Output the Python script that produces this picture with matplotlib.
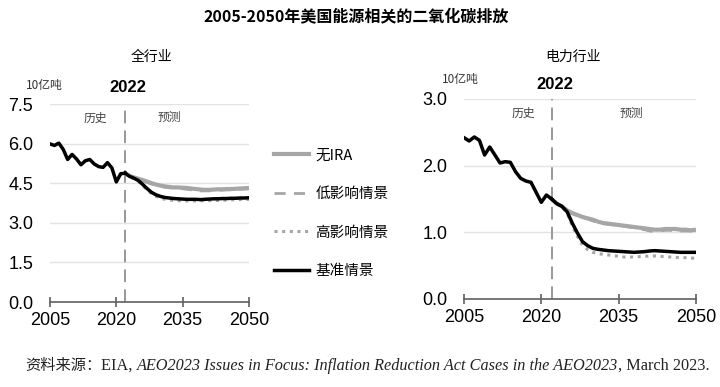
import matplotlib
matplotlib.use("Agg")
import matplotlib.pyplot as plt
from matplotlib.lines import Line2D
import numpy as np

plt.rcParams['font.family'] = ['Liberation Sans', 'Noto Sans CJK SC', 'DejaVu Sans']
CJK = ['Noto Sans CJK SC', 'DejaVu Sans']

# years
hist_years = list(range(2005, 2023))
proj_years = list(range(2022, 2051))

# all sectors, billion tonnes
total_hist = [5.99, 5.93, 6.02, 5.78, 5.40, 5.59, 5.42, 5.20, 5.35, 5.40, 5.23, 5.13, 5.10, 5.28, 5.08, 4.55, 4.86, 4.88]
total_noira = [4.88, 4.78, 4.72, 4.67, 4.62, 4.56, 4.50, 4.45, 4.41, 4.38, 4.36, 4.34, 4.34, 4.33, 4.32, 4.30, 4.28, 4.26, 4.25, 4.25,
               4.26, 4.27, 4.27, 4.28, 4.28, 4.29, 4.30, 4.31, 4.32]
total_low = [4.88, 4.78, 4.71, 4.65, 4.59, 4.53, 4.47, 4.42, 4.38, 4.35, 4.33, 4.31, 4.30, 4.29, 4.27, 4.25, 4.23, 4.21, 4.21, 4.21,
             4.22, 4.23, 4.24, 4.25, 4.25, 4.26, 4.27, 4.28, 4.29]
total_high = [4.88, 4.75, 4.67, 4.57, 4.41, 4.24, 4.10, 4.00, 3.93, 3.89, 3.87, 3.85, 3.84, 3.83, 3.83, 3.83, 3.83, 3.83, 3.84, 3.84,
              3.85, 3.85, 3.86, 3.86, 3.87, 3.87, 3.88, 3.88, 3.89]
total_base = [4.88, 4.76, 4.69, 4.60, 4.45, 4.29, 4.15, 4.06, 4.00, 3.96, 3.94, 3.92, 3.91, 3.90, 3.89, 3.89, 3.89, 3.88, 3.89, 3.90,
              3.91, 3.91, 3.92, 3.92, 3.93, 3.93, 3.94, 3.94, 3.95]

# electric power sector
power_hist = [2.42, 2.37, 2.43, 2.38, 2.16, 2.28, 2.16, 2.04, 2.06, 2.05, 1.91, 1.81, 1.77, 1.75, 1.60, 1.45, 1.56, 1.50]
power_noira = [1.50, 1.43, 1.39, 1.33, 1.29, 1.26, 1.23, 1.21, 1.19, 1.16, 1.14, 1.13, 1.12, 1.11, 1.10, 1.09, 1.08, 1.07, 1.06, 1.05,
               1.04, 1.04, 1.05, 1.05, 1.05, 1.04, 1.04, 1.03, 1.04]
power_low = [1.50, 1.43, 1.39, 1.32, 1.28, 1.25, 1.22, 1.20, 1.17, 1.15, 1.13, 1.12, 1.11, 1.10, 1.09, 1.08, 1.07, 1.05, 1.04, 1.02,
             1.01, 1.02, 1.03, 1.03, 1.02, 1.02, 1.02, 1.02, 1.03]
power_high = [1.50, 1.43, 1.38, 1.29, 1.10, 0.94, 0.81, 0.74, 0.70, 0.68, 0.67, 0.66, 0.65, 0.64, 0.63, 0.63, 0.63, 0.635, 0.64, 0.645,
              0.645, 0.64, 0.635, 0.63, 0.625, 0.62, 0.62, 0.615, 0.61]
power_base = [1.50, 1.43, 1.39, 1.31, 1.14, 0.99, 0.86, 0.80, 0.76, 0.745, 0.735, 0.725, 0.72, 0.715, 0.71, 0.705, 0.70, 0.705, 0.71, 0.72,
              0.725, 0.72, 0.715, 0.71, 0.705, 0.70, 0.70, 0.70, 0.70]

legend_labels = ['无IRA', '低影响情景', '高影响情景', '基准情景']
xticks = [2005, 2020, 2035, 2050]

GRAY = '#a6a6a6'

fig = plt.figure(figsize=(7.2, 3.87), dpi=100)


def draw_panel(ax, hist, noira, low, high, base, ymax, ystep, title, title_x, unit_x, unit_y, hist_x, pred_x, note_y):
    ax.plot(proj_years, noira, color=GRAY, lw=3, solid_capstyle='butt', zorder=3)
    ax.plot(proj_years, low, color=GRAY, lw=2, ls=(0, (4, 3)), zorder=3)
    ax.plot(proj_years, high, color=GRAY, lw=2.2, ls=(0, (1, 1.5)), zorder=3)
    ax.plot(proj_years, base, color='black', lw=2.5, zorder=4)
    ax.plot(hist_years, hist, color='black', lw=2.5, zorder=4)
    ax.axvline(2022, color='#909090', lw=1.3, ls=(0, (7, 4)), zorder=2)
    ax.set_xlim(2005, 2050)
    ax.set_ylim(0, ymax)
    ax.set_xticks(xticks)
    yt = np.arange(0, ymax + 0.001, ystep)
    ax.set_yticks(yt)
    ax.set_yticklabels(['%.1f' % v for v in yt])
    ax.grid(axis='y', color='#e3e3e3', lw=1)
    ax.set_axisbelow(True)
    for s in ['top', 'right', 'left']:
        ax.spines[s].set_visible(False)
    ax.spines['bottom'].set_color('#606060')
    ax.spines['bottom'].set_linewidth(1.2)
    ax.tick_params(axis='y', length=0, labelsize=13, pad=12)
    ax.tick_params(axis='x', direction='inout', length=7, width=1.2, color='#606060', labelsize=13, pad=4)
    ax.text(2022.6, note_y, '2022', fontsize=12, fontweight='bold', ha='center', va='center',
            transform=ax.get_xaxis_transform())
    ax.text(hist_x, 0.93, '历史', fontsize=8.5, family=CJK, color='#444444', ha='center', va='center',
            transform=ax.get_xaxis_transform())
    ax.text(pred_x, 0.93, '预测', fontsize=8.5, family=CJK, color='#444444', ha='center', va='center',
            transform=ax.get_xaxis_transform())
    fig.text(unit_x, unit_y, '10亿吨', fontsize=8.5, family=CJK, color='#333333', ha='center', va='center')
    fig.text(title_x, 0.853, title, fontsize=10, family=CJK, ha='center', va='center')


ax1 = fig.add_axes([0.0694, 0.2196, 0.2764, 0.5116])
draw_panel(ax1, total_hist, total_noira, total_low, total_high, total_base, 7.5, 1.5, '全行业',
           0.21, 0.062, 0.78, 2015.2, 2032, 1.085)

ax2 = fig.add_axes([0.6444, 0.2274, 0.3222, 0.5168])
draw_panel(ax2, power_hist, power_noira, power_low, power_high, power_base, 3.0, 1.0, '电力行业',
           0.796, 0.639, 0.795, 2016.6, 2037.4, 1.07)

fig.text(0.495, 0.955, '2005-2050年美国能源相关的二氧化碳排放', fontsize=11.5, family=CJK,
         fontweight='bold', ha='center', va='center')

handles = [
    Line2D([], [], color=GRAY, lw=3),
    Line2D([], [], color=GRAY, lw=2, ls=(0, (4, 3))),
    Line2D([], [], color=GRAY, lw=2.2, ls=(0, (1, 1.5))),
    Line2D([], [], color='black', lw=2.5),
]
fig.legend(handles, legend_labels, loc='upper left', bbox_to_anchor=(0.362, 0.65), frameon=False,
           prop={'family': CJK, 'size': 10.5}, handlelength=2.4, handletextpad=0.45, labelspacing=1.68)

# source line with mixed styles
fig.canvas.draw()
r = fig.canvas.get_renderer()
x = 0.035
y = 0.055
parts = [
    ('资料来源：', dict(family=CJK, fontsize=11)),
    ('EIA, ', dict(family='Liberation Serif', fontsize=11.7)),
    ('AEO2023 Issues in Focus: Inflation Reduction Act Cases in the AEO2023', dict(family='Liberation Serif', fontsize=11.7, style='italic')),
    (', March 2023.', dict(family='Liberation Serif', fontsize=11.7)),
]
for txt, kw in parts:
    t = fig.text(x, y, txt, ha='left', va='center', color='#222222', **kw)
    bb = t.get_window_extent(renderer=r)
    x += bb.width / fig.bbox.width

fig.savefig('out.png', dpi=100)
